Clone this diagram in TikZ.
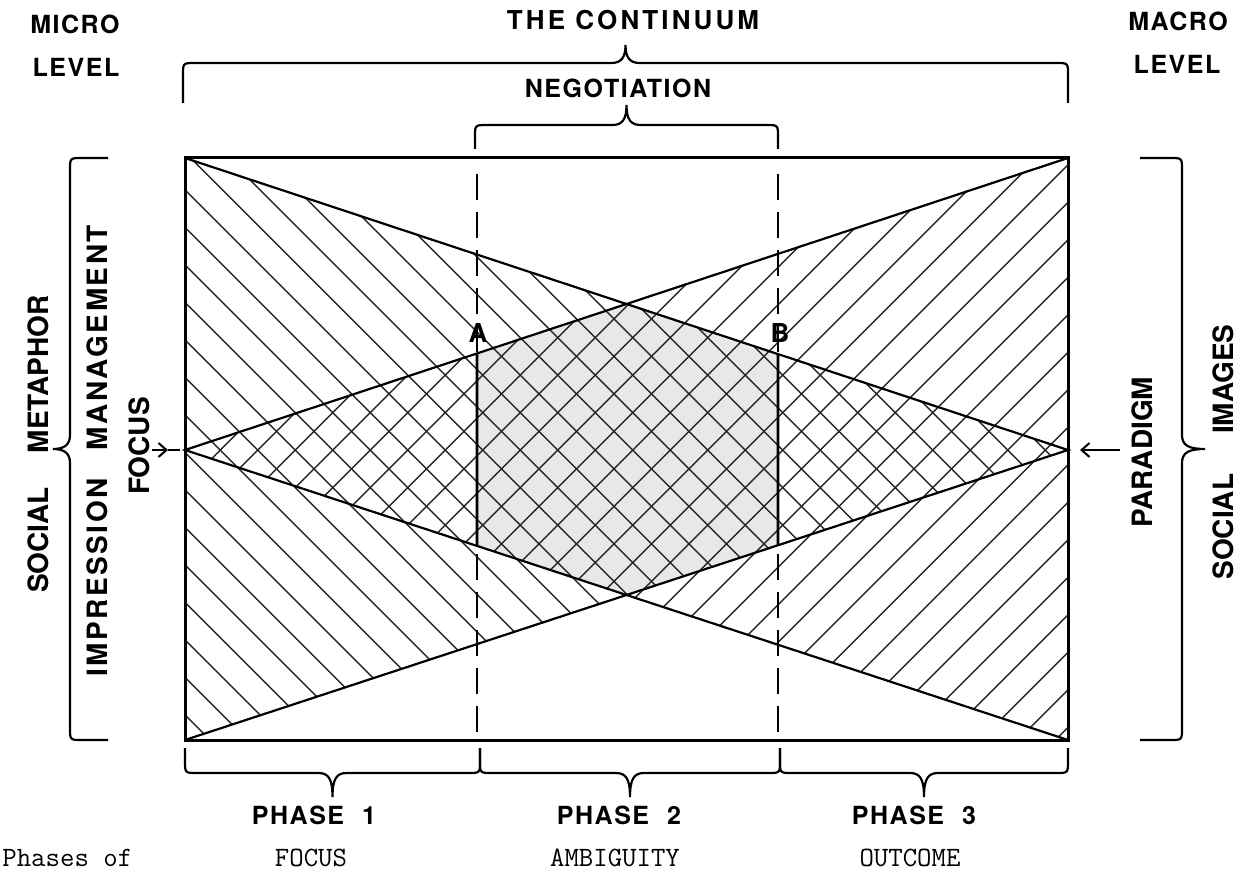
\documentclass[tikz,border=0pt]{standalone}
\usepackage{fontspec}
\setmainfont{TeX Gyre Heros}
\newfontfamily\spacedf[LetterSpace=6]{TeX Gyre Heros}
\newfontfamily\widef[LetterSpace=12]{TeX Gyre Heros}
\newfontfamily\impf[LetterSpace=9]{TeX Gyre Heros}
\usetikzlibrary{arrows.meta}
\newcommand\hbrc[5]{%
  \pgfmathsetmacro\bxm{(#1+#2)/2}%
  \pgfmathsetmacro\bsg{(#3>#4)?1:-1}%
  \draw[brc] (#1,#3) -- (#1,{#4+12*\bsg}) .. controls (#1,#4) .. ({#1+12},#4) -- ({\bxm-14},#4)
    .. controls ({\bxm-4},#4) and (\bxm,{#4-6*\bsg}) .. (\bxm,#5)
    .. controls (\bxm,{#4-6*\bsg}) and ({\bxm+4},#4) .. ({\bxm+14},#4) -- ({#2-12},#4)
    .. controls (#2,#4) .. (#2,{#4+12*\bsg}) -- (#2,#3);}
\newcommand\vbrc[5]{%
  \pgfmathsetmacro\bym{(#1+#2)/2}%
  \pgfmathsetmacro\bsg{(#3>#4)?1:-1}%
  \draw[brc] (#3,#1) -- ({#4+12*\bsg},#1) .. controls (#4,#1) .. (#4,{#1+12}) -- (#4,{\bym-14})
    .. controls (#4,{\bym-4}) and ({#4-6*\bsg},\bym) .. (#5,\bym)
    .. controls ({#4-6*\bsg},\bym) and (#4,{\bym+4}) .. (#4,{\bym+14}) -- (#4,{#2-12})
    .. controls (#4,#2) .. ({#4+12*\bsg},#2) -- (#3,#2);}
\begin{document}
\begin{tikzpicture}[x=0.5pt,y=-0.5pt,
  hatch/.style={line width=0.7pt,black!85},
  outline/.style={line width=1.5pt},
  diag/.style={line width=1.1pt},
  solidv/.style={line width=1.4pt},
  dashln/.style={line width=1.1pt,dash pattern=on 13pt off 6pt},
  brc/.style={line width=1.1pt},
  lab/.style={font=\bfseries\fontsize{13}{15}\selectfont,inner sep=0pt},
  slab/.style={font=\spacedf\bfseries\fontsize{12.5}{15}\selectfont,inner sep=0pt},
  wlab/.style={font=\widef\bfseries\fontsize{13}{15}\selectfont,inner sep=0pt},
  rlab/.style={font=\bfseries\fontsize{14}{16}\selectfont,inner sep=0pt,rotate=90},
  tlab/.style={font=\ttfamily\fontsize{14}{16}\selectfont,inner sep=0pt},
  tip/.style={-{Straight Barb[length=4pt,width=7pt]},line width=1pt}]
\useasboundingbox (0,0) rectangle (1248,877);
\fill[white] (0,0) rectangle (1248,877);
\coordinate (TL) at (185,158);
\coordinate (TR) at (1068,158);
\coordinate (BL) at (185,740);
\coordinate (BR) at (1068,740);
\coordinate (LM) at (185,450);
\coordinate (RM) at (1068,450);
\coordinate (A0) at (477,174);
\coordinate (A1) at (477,740);
\coordinate (B0) at (778,174);
\coordinate (B1) at (778,740);
% grey centre
\begin{scope}
  \clip (TL) -- (RM) -- (BL) -- cycle;
  \clip (TR) -- (LM) -- (BR) -- cycle;
  \fill[black!9] (477,100) rectangle (778,800);
\end{scope}
% hatching of left triangle
\begin{scope}
  \clip (TL) -- (RM) -- (BL) -- cycle;
  \foreach \k in {-25,...,15}
    \draw[hatch] (100,{104.8+37.5*\k}) -- (1100,{1104.8+37.5*\k});
\end{scope}
% hatching of right triangle
\begin{scope}
  \clip (TR) -- (LM) -- (BR) -- cycle;
  \foreach \k in {8,...,48}
    \draw[hatch] (100,{37.5*\k-67.2}) -- (1100,{37.5*\k-1067.2});
\end{scope}
% dashed verticals
\draw[dashln] (A0) -- (A1);
\draw[dashln] (B0) -- (B1);
% solid segments
\coordinate (At) at (intersection of LM--TR and A0--A1);
\coordinate (Ab) at (intersection of LM--BR and A0--A1);
\coordinate (Bt) at (intersection of TL--RM and B0--B1);
\coordinate (Bb) at (intersection of BL--RM and B0--B1);
\draw[solidv] (At) -- (Ab);
\draw[solidv] (Bt) -- (Bb);
% outlines
\draw[diag] (TL) -- (RM) -- (BL);
\draw[diag] (TR) -- (LM) -- (BR);
\draw[outline] (TL) rectangle (BR);
% braces
\hbrc{183}{1068}{103}{63}{45}
\hbrc{475}{778}{149}{125}{105}
\vbrc{158}{740}{108}{70}{53}
\vbrc{158}{740}{1140}{1182}{1205}
\hbrc{185}{480}{748}{773}{797}
\hbrc{480}{780}{748}{773}{797}
\hbrc{780}{1068}{748}{773}{797}
% arrows
\coordinate (fa0) at (152,450);
\coordinate (fa1) at (168,450);
\coordinate (fa2) at (180,450);
\draw[tip] (fa0) -- (fa1);
\draw[line width=1pt] (fa1) -- (fa2);
\coordinate (pa0) at (1120,450);
\coordinate (pa1) at (1080,450);
\draw[tip] (pa0) -- (pa1);
% labels
\node[slab] (micro) at (75,24) {MICRO};
\node[slab] (lev1) at (76,67) {LEVEL};
\node[slab] (macro) at (1178,21) {MACRO};
\node[slab] (lev2) at (1177,64) {LEVEL};
\node[wlab] (cont) at (633,20) {THE CONTINUUM};
\node[slab] (nego) at (618,88) {NEGOTIATION};
\node[lab] (lA) at (478,333) {A};
\node[lab] (lB) at (780,333) {B};
\node[rlab] (smet) at (38,444) {SOCIAL\hspace{17pt}METAPHOR};
\node[rlab,font=\impf\bfseries\fontsize{14}{16}\selectfont] (imp) at (97,451) {IMPRESSION\hspace{14pt}MANAGEMENT};
\node[rlab] (foc) at (139,446) {FOCUS};
\node[rlab] (par) at (1142,452) {PARADIGM};
\node[rlab] (simg) at (1223,452) {SOCIAL\hspace{20pt}IMAGES};
\node[slab] (ph1) at (314,815) {PHASE\hspace{9pt}1};
\node[slab] (ph2) at (619,815) {PHASE\hspace{9pt}2};
\node[slab] (ph3) at (914,815) {PHASE\hspace{9pt}3};
\node[tlab,anchor=west] (pof) at (2,858) {Phases of};
\node[tlab] (t1) at (311,858) {FOCUS};
\node[tlab] (t2) at (615,858) {AMBIGUITY};
\node[tlab] (t3) at (910,858) {OUTCOME};
\end{tikzpicture}
\end{document}
